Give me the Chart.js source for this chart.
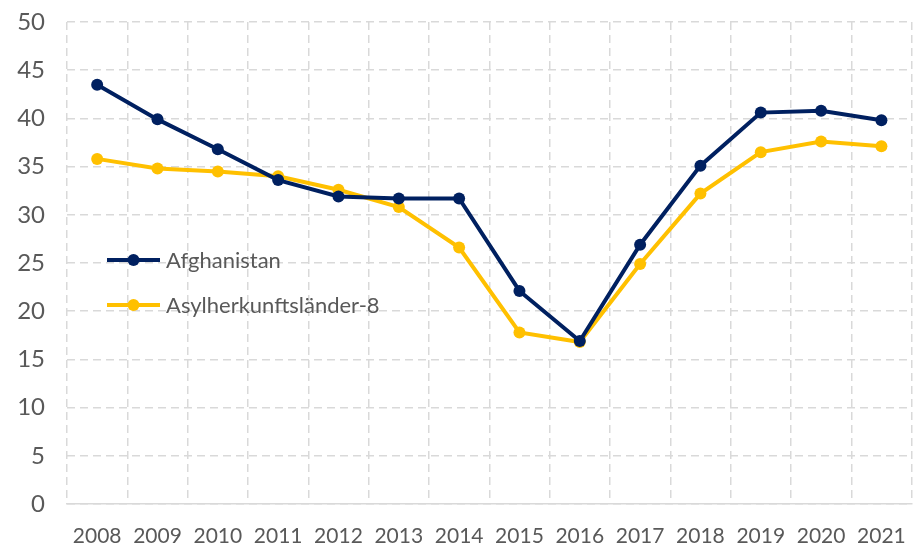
<!DOCTYPE html>
<html>
<head>
<meta charset="utf-8">
<script src="https://cdn.jsdelivr.net/npm/chart.js@4.4.1/dist/chart.umd.min.js"></script>
<style>
  html, body { margin: 0; padding: 0; overflow: hidden; background: #fff; }
  #wrap { width: 926px; height: 547px; }
</style>
</head>
<body>
<div id="wrap"><canvas id="myChart"></canvas></div>
<script>
var years = ['2008', '2009', '2010', '2011', '2012', '2013', '2014',
             '2015', '2016', '2017', '2018', '2019', '2020', '2021'];
var afghanistan = [43.5, 39.9, 36.8, 33.6, 31.9, 31.7, 31.7,
                   22.1, 16.9, 26.9, 35.1, 40.6, 40.8, 39.8];
var asyl8 = [35.8, 34.8, 34.5, 34.0, 32.6, 30.8, 26.6,
             17.8, 16.8, 24.9, 32.2, 36.5, 37.6, 37.1];
var yTicks = [0, 5, 10, 15, 20, 25, 30, 35, 40, 45, 50];

var navy = '#002060';
var gold = '#FFC000';
var textColor = '#595959';
var gridColor = '#d9d9d9';
var fontFamily = 'Lato, "Open Sans", sans-serif';

// legend sits inside the plot area, like in the original
var insideLegend = {
  id: 'insideLegend',
  afterDatasetsDraw: function(chart) {
    var ctx = chart.ctx;
    var area = chart.chartArea;
    var rows = [area.top + 238, area.top + 283];
    ctx.save();
    chart.data.datasets.forEach(function(ds, i) {
      var y = rows[i];
      var x0 = area.left + 40;
      ctx.strokeStyle = ds.borderColor;
      ctx.lineWidth = 4;
      ctx.beginPath();
      ctx.moveTo(x0, y);
      ctx.lineTo(x0 + 53, y);
      ctx.stroke();
      ctx.fillStyle = ds.borderColor;
      ctx.beginPath();
      ctx.arc(x0 + 26.5, y, 6, 0, Math.PI * 2);
      ctx.fill();
      ctx.fillStyle = textColor;
      ctx.font = '22px ' + fontFamily;
      ctx.textBaseline = 'middle';
      ctx.textAlign = 'left';
      ctx.fillText(ds.label, x0 + 59, y + 1);
    });
    ctx.restore();
  }
};

var newChart = document.getElementById('myChart').getContext('2d');
window.line = new Chart(newChart, {
  type: 'line',
  data: {
    labels: years,
    datasets: [{
      label: 'Afghanistan',
      data: afghanistan,
      borderColor: navy,
      backgroundColor: navy,
      borderWidth: 4,
      pointRadius: 6,
      pointBorderWidth: 0,
      tension: 0
    }, {
      label: 'Asylherkunftsländer-8',
      data: asyl8,
      borderColor: gold,
      backgroundColor: gold,
      borderWidth: 4,
      pointRadius: 6,
      pointBorderWidth: 0,
      tension: 0
    }]
  },
  options: {
    responsive: true,
    maintainAspectRatio: false,
    animation: false,
    layout: { padding: { top: 22, right: 1, left: 0, bottom: 0 } },
    plugins: {
      legend: { display: false },
      tooltip: { enabled: false }
    },
    scales: {
      x: {
        type: 'category',
        offset: true,
        grid: { offset: true, color: gridColor, lineWidth: 1.5, drawTicks: false },
        border: { display: true, color: gridColor, width: 1.5, dash: [8, 5] },
        ticks: { color: textColor, font: { family: fontFamily, size: 21 }, padding: 20, maxRotation: 0, autoSkip: false },
        afterFit: function(s) { s.height = 43; }
      },
      y: {
        min: 0,
        max: 50,
        afterBuildTicks: function(s) { s.ticks = yTicks.map(function(v) { return { value: v }; }); },
        grid: { color: gridColor, lineWidth: 1.5, drawTicks: false },
        border: { display: false, dash: [8, 5] },
        ticks: { color: textColor, font: { family: fontFamily, size: 24 }, padding: 22 },
        afterFit: function(s) {
          s.width = 67;
          // tick padding should not push the plot down
          s.paddingTop = 0;
          s.paddingBottom = 0;
        }
      }
    }
  },
  plugins: [insideLegend]
});
</script>
</body>
</html>
